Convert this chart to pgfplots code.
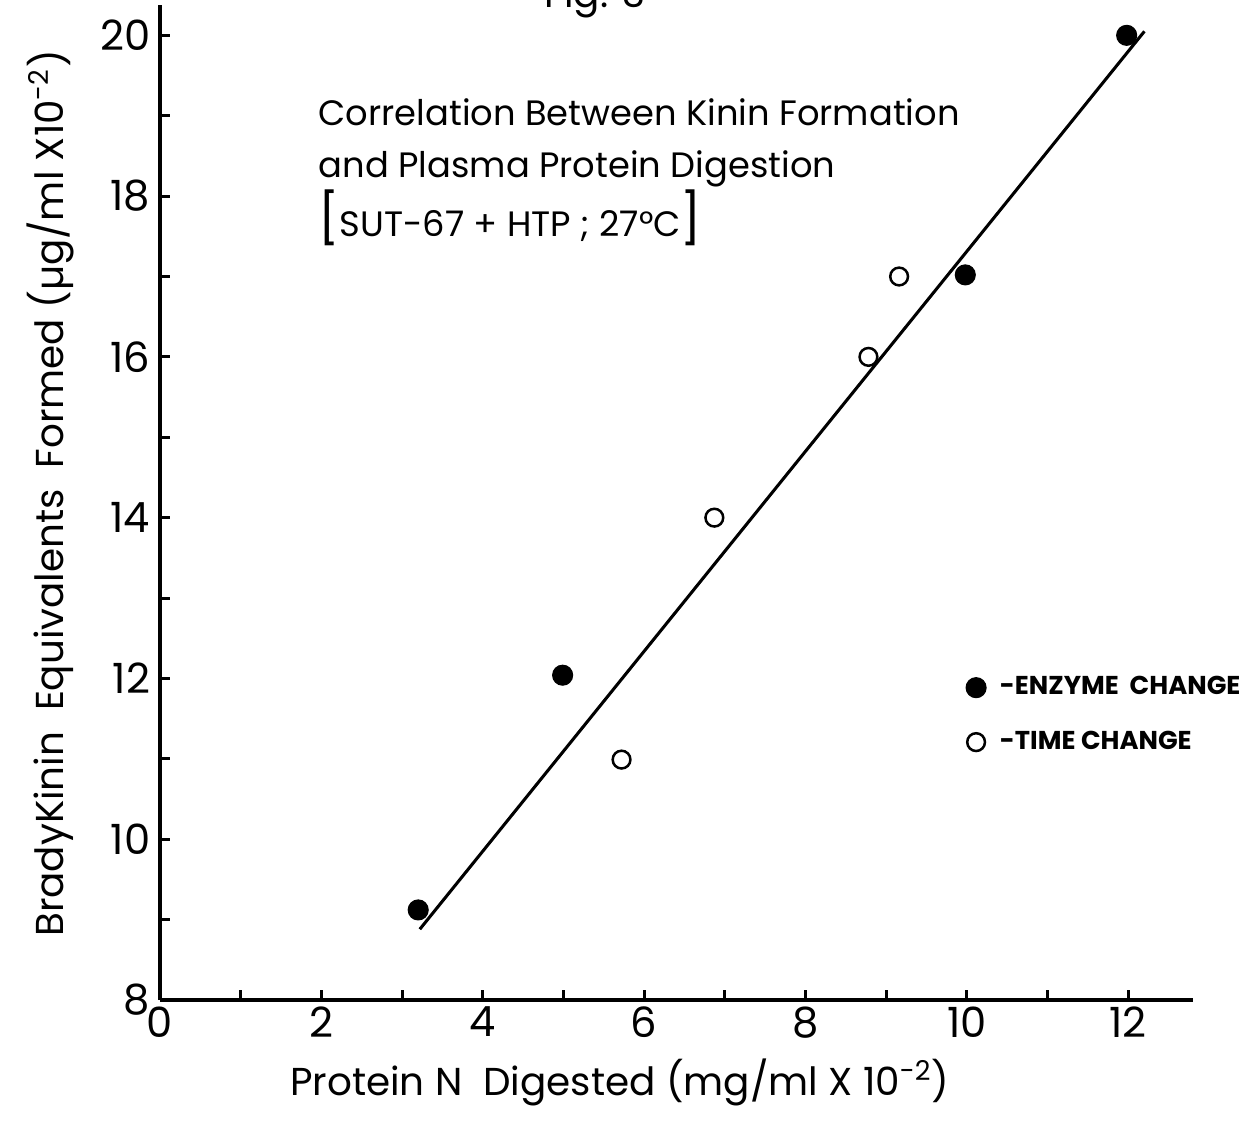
\documentclass[border=0pt]{standalone}
\usepackage{fontspec}
\setmainfont{Poppins}
\usepackage{pgfplots}
\pgfplotsset{compat=1.18}

\begin{document}
\begin{tikzpicture}
\begin{axis}[
  x=29.05pt, y=28.94pt,
  xmin=0, xmax=12.8, ymin=8, ymax=20.38,
  axis lines=left,
  axis line style={line width=1.4pt, -},
  xtick={0,2,...,12}, minor xtick={1,3,...,11},
  ytick={8,10,...,20}, minor ytick={9,11,...,19},
  tick align=inside,
  major tick length=3.6pt, minor tick length=3.6pt,
  tick style={line width=1.1pt, black},
  /pgf/number format/assume math mode=true,
  ticklabel style={font=\fontsize{15}{18}\selectfont},
  xticklabel style={yshift=1pt},
  xlabel={Protein N \ Digested (mg/ml X 10\textsuperscript{-2})},
  ylabel={BradyKinin \ Equivalents \ Formed (µg/ml X10\textsuperscript{-2})},
  label style={font=\fontsize{14}{16}\selectfont},
  xlabel style={at={(axis cs:5.7,6.98)}, anchor=center},
  ylabel style={at={(axis cs:-1.36,14.3)}, anchor=center},
  clip=false,
  legend style={at={(axis cs:9.88,12.17)}, anchor=north west, draw=none, fill=none,
    font=\bfseries\fontsize{9.3}{11}\selectfont, row sep=7.5pt},
  legend cell align=left,
  legend image code/.code={\draw[#1] plot coordinates {(0cm,0cm)};},
]
\coordinate (O) at (axis cs:0,8);

% fitted regression line
\addplot[black, line width=1.1pt, forget plot] coordinates {(3.22,8.88) (12.2,20.05)};

% enzyme concentration varied
\addplot[only marks, mark=*, mark size=3.6pt, black] coordinates {
  (3.20,9.12) (4.99,12.04) (9.98,17.02) (11.98,20.0)
};
\addlegendentry{\hspace{3pt}-ENZYME\ \ CHANGE}

% incubation time varied
\addplot[only marks, mark=o, mark size=3.2pt, black, line width=0.9pt] coordinates {
  (5.72,10.99) (6.87,14.0) (8.78,16.0) (9.16,17.0)
};
\addlegendentry{\hspace{3pt}-TIME CHANGE}

\node[anchor=north west, align=left, inner sep=0pt, font=\fontsize{12.7}{18.7}\selectfont]
  at (axis cs:1.96,19.22)
  {Correlation Between Kinin Formation\\
   and Plasma Protein Digestion\\
   {\fontsize{18}{18}\selectfont[}SUT-67 + HTP ; 27°C{\fontsize{18}{18}\selectfont]}};

\node[anchor=base, font=\fontsize{14}{16}\selectfont] at (axis cs:5.39,20.35) {Fig. 3};
\end{axis}
\pgfresetboundingbox
\path[use as bounding box] ([shift={(-57.6pt,-50.4pt)}]O) rectangle ([shift={(389.9pt,360pt)}]O);
\end{tikzpicture}
\end{document}
